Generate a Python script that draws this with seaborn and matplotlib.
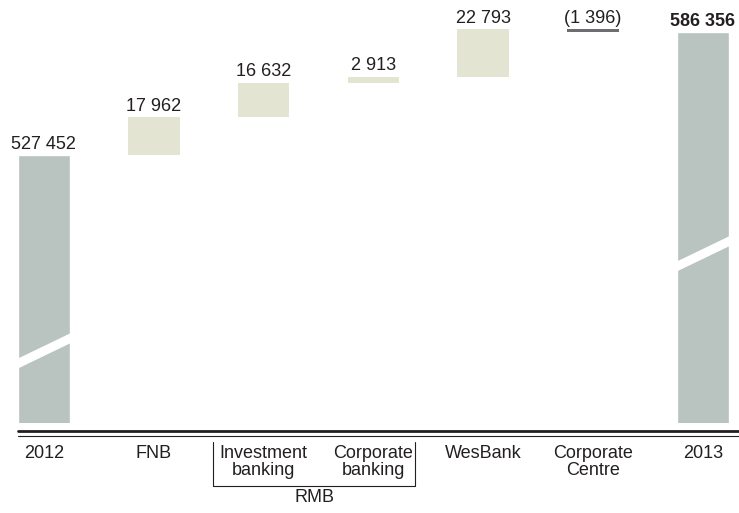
import numpy as np
import pandas as pd
import seaborn as sns
import matplotlib.pyplot as plt
from matplotlib.lines import Line2D

# data
categories = ["2012", "FNB", "Investment\nbanking", "Corporate\nbanking",
              "WesBank", "Corporate\nCentre", "2013"]
start_total = 527452
end_total = 586356
changes = [17962, 16632, 2913, 22793, -1396]
value_labels = ["527 452", "17 962", "16 632", "2 913", "22 793", "(1 396)", "586 356"]

sns.set_style("white")
plt.rcParams['font.family'] = ['Liberation Sans', 'DejaVu Sans']

ink = '#231f20'
total_col = '#b9c3bf'
up_col = '#e3e4d2'
down_col = '#6d6d72'
bar_w = 0.47

W, H = 739, 513
fig = plt.figure(figsize=(W / 100, H / 100), dpi=100)
ax = fig.add_axes([0, 1 - 423 / H, 1, 423 / H])

# totals through seaborn
totals = [start_total] + [np.nan] * len(changes) + [end_total]
df = pd.DataFrame({'cat': categories, 'value': totals})
sns.barplot(data=df, x='cat', y='value', order=categories, color=total_col,
            saturation=1, width=bar_w, ax=ax)

# floating bars
cum = start_total + np.cumsum([0] + changes)
bottoms = np.minimum(cum[:-1], cum[1:])
heights = np.abs(np.diff(cum))
cols = [up_col if c > 0 else down_col for c in changes]
ax.bar(np.arange(1, len(changes) + 1), heights, bottom=bottoms, width=bar_w,
       color=cols, linewidth=0)

y_lo, y_hi = 399200, 601630
ax.set_ylim(y_lo, y_hi)
ax.set_xlim(-0.40, 6.33)
ax.set_yticks([])
ax.set_xlabel('')
ax.set_ylabel('')
for s in ax.spines.values():
    s.set_visible(False)

ax.set_xticks(range(len(categories)))
ax.set_xticklabels(categories, linespacing=1.0)
ax.tick_params(axis='x', length=0, pad=16, labelsize=13, colors=ink)

# value labels
tops = [start_total] + list(np.maximum(cum[:-1], cum[1:])) + [end_total]
for i, (lab, t) in enumerate(zip(value_labels, tops)):
    ax.annotate(lab, (i, t), xytext=(0, 4.5), textcoords='offset points',
                ha='center', va='baseline', fontsize=13, color=ink,
                fontweight='bold' if i == len(tops) - 1 else 'normal')

# axis break marks on the totals
px = 423 / (y_hi - y_lo)
rise, th = 27 / px, 10 / px
for pos, level in [(0, 433650), (6, 480080)]:
    x0, x1 = pos - bar_w / 2 - 0.02, pos + bar_w / 2 + 0.02
    ax.fill([x0, x1, x1, x0],
            [level - rise / 2 - th / 2, level + rise / 2 - th / 2,
             level + rise / 2 + th / 2, level - rise / 2 + th / 2],
            color='white', lw=0, zorder=5)

# double base line
def fx(p):
    return p / W

def fy(p):
    return 1 - p / H

fig.add_artist(Line2D([fx(18), 1], [fy(430.5)] * 2, lw=2.0, color=ink))
fig.add_artist(Line2D([fx(18), 1], [fy(435.5)] * 2, lw=0.8, color=ink))

# RMB bracket
fig.add_artist(Line2D([fx(213), fx(213), fx(415), fx(415)],
                      [fy(442), fy(486), fy(486), fy(442)], lw=0.8, color=ink))
fig.text(fx(314), fy(497), 'RMB', ha='center', va='center', fontsize=13, color=ink)

plt.savefig('out.png', dpi=100)
